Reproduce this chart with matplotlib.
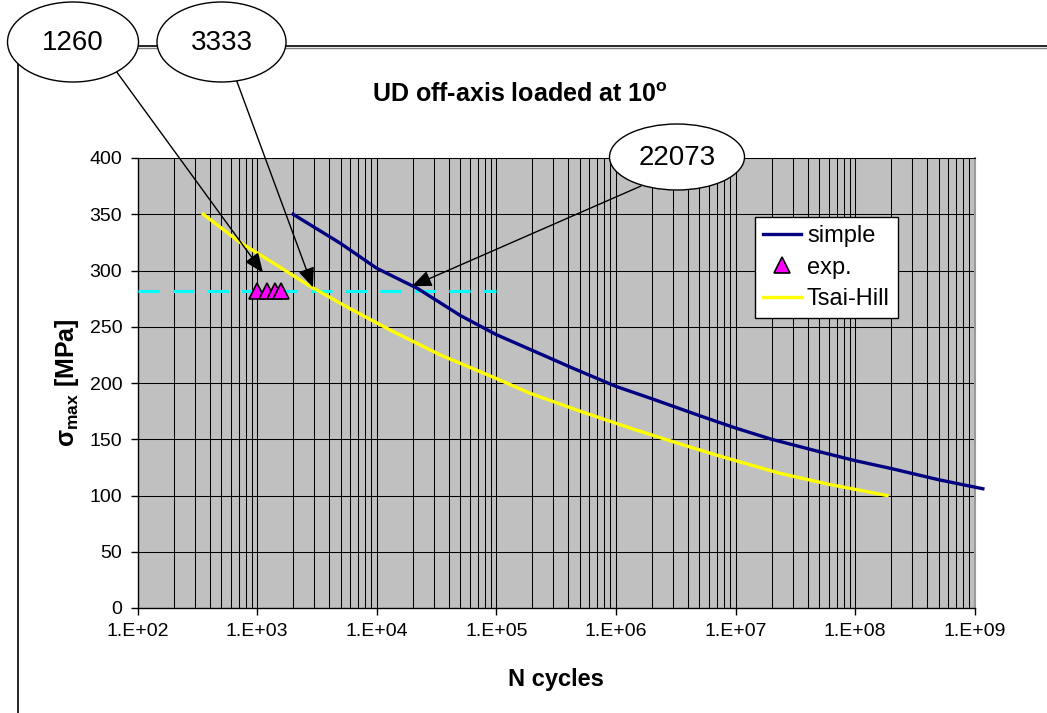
import numpy as np
import matplotlib
matplotlib.use("Agg")
import matplotlib.pyplot as plt
from matplotlib.patches import Ellipse
from matplotlib.ticker import FixedLocator, FuncFormatter, NullFormatter

plt.rcParams['font.family'] = ['Liberation Sans', 'DejaVu Sans']
plt.rcParams['mathtext.fontset'] = 'custom'
plt.rcParams['mathtext.rm'] = 'Liberation Sans'
plt.rcParams['mathtext.bf'] = 'Liberation Sans:bold'

# data
simple_N = [2000, 5000, 1e4, 2.2e4, 5e4, 1e5, 2e5, 4.4e5, 1e6, 2e6, 5e6, 1e7, 2e7, 5e7, 1e8, 2e8, 5e8, 1.17e9]
simple_s = [350, 324, 302, 284, 260, 243, 229, 213, 197, 186, 171, 160, 150, 139, 131, 124, 114, 106]

tsai_N = [355, 720, 1500, 2770, 6000, 1.3e4, 3.4e4, 1e5, 1.9e5, 5e5, 1.4e6, 3.4e6, 7.4e6, 2.3e7, 6e7, 1.85e8]
tsai_s = [350, 325, 304, 286, 266, 247, 225, 204, 191, 175, 159, 146, 135, 120, 110, 100]

exp_N = [1000, 1200, 1400, 1580]
exp_s = [282, 282, 282, 282]

level_N = [1e2, 1e5]
level_s = [282, 282]

callout_labels = ['1260', '3333', '22073']
callout_tip_N = [1120, 2930, 19700]
callout_tip_s = [298, 285, 286]

fig = plt.figure(figsize=(10.47, 7.13), dpi=100)
ax = fig.add_axes([137.5 / 1047, 1 - 608 / 713, (974.7 - 137.5) / 1047, 450 / 713])
ax.set_facecolor('#c0c0c0')

ax.set_xscale('log')
ax.set_xlim(1e2, 1e9)
ax.set_ylim(0, 400)

ax.xaxis.set_major_locator(FixedLocator([10.0 ** k for k in range(2, 10)]))
ax.xaxis.set_minor_locator(FixedLocator([m * 10.0 ** k for k in range(2, 9) for m in range(2, 10)]))
ax.xaxis.set_major_formatter(FuncFormatter(lambda v, p: "1.E+%02d" % round(np.log10(v))))
ax.xaxis.set_minor_formatter(NullFormatter())
ax.set_yticks(np.arange(0, 401, 50))

ax.grid(True, which='major', axis='both', color='black', lw=0.75)
ax.grid(True, which='minor', axis='x', color='black', lw=0.75)
ax.set_axisbelow(True)
ax.tick_params(which='major', direction='out', length=5, width=1, labelsize=14, pad=6)
ax.tick_params(which='minor', length=0)

for side in ['left', 'bottom']:
    ax.spines[side].set_color('black')
    ax.spines[side].set_linewidth(1)
ax.spines['top'].set_color('black')
ax.spines['top'].set_linewidth(0.75)
ax.spines['right'].set_color('#9a9a9a')
ax.spines['right'].set_linewidth(1.5)

ax.plot(level_N, level_s, color='#00ffff', lw=2.2, dashes=(7, 4.3), zorder=3)
ax.plot(simple_N, simple_s, color='#000080', lw=2.4, label='simple', zorder=4, clip_on=False)
ax.plot(exp_N, exp_s, ls='none', marker='^', ms=12, mfc='#ff00ff', mec='black', mew=1.2,
        label='exp.', zorder=5)
ax.plot(tsai_N, tsai_s, color='#ffff00', lw=2.4, label='Tsai-Hill', zorder=4)

ax.set_xlabel('N cycles', fontsize=17, fontweight='bold', labelpad=20)
ax.set_ylabel('σ$_\\mathbf{max}$ [MPa]', fontsize=18, fontweight='bold', labelpad=6)

leg = ax.legend(loc='upper left', bbox_to_anchor=(755 / 1047, 1 - 217 / 713),
                bbox_transform=fig.transFigure, borderaxespad=0, fontsize=17,
                fancybox=False, framealpha=1, edgecolor='black', handlelength=1.6,
                handletextpad=0.25, labelspacing=0.4, borderpad=0.35)
leg.get_frame().set_linewidth(1)

fig.text(520 / 1047, 1 - 95 / 713, 'UD off-axis loaded at 10$^\\mathbf{o}$', fontsize=18,
         fontweight='bold', ha='center', va='center')

# overlay in pixel coordinates for the chart frame and callouts
ov = fig.add_axes([0, 0, 1, 1], zorder=10)
ov.set_xlim(0, 1047)
ov.set_ylim(713, 0)
ov.axis('off')
ov.patch.set_alpha(0)

ov.plot([18, 1047], [46, 46], color='black', lw=1.2)
ov.plot([18, 1047], [47.5, 47.5], color='#808080', lw=1)
ov.plot([18, 18], [46, 713], color='black', lw=1.2)

ellipses = [(73, 42, 131, 80), (221.5, 42, 129, 80), (677, 157, 135, 66)]
starts = [(116, 71), (236, 79), (641, 186)]
for (cx, cy, w, h), lab, (sx, sy), tn, ts in zip(ellipses, callout_labels, starts,
                                                  callout_tip_N, callout_tip_s):
    ov.add_patch(Ellipse((cx, cy), w, h, facecolor='white', edgecolor='black', lw=1, zorder=3))
    ov.text(cx, cy + 1, lab, fontsize=20, ha='center', va='center', zorder=4)
    ov.annotate('', xy=(tn, ts), xycoords=ax.transData, xytext=(sx, sy), textcoords='data',
                arrowprops=dict(arrowstyle='-|>,head_length=0.6,head_width=0.25', color='black',
                                lw=1, mutation_scale=20, shrinkA=0, shrinkB=0),
                annotation_clip=False, zorder=2)

fig.savefig('out.png', dpi=100)
